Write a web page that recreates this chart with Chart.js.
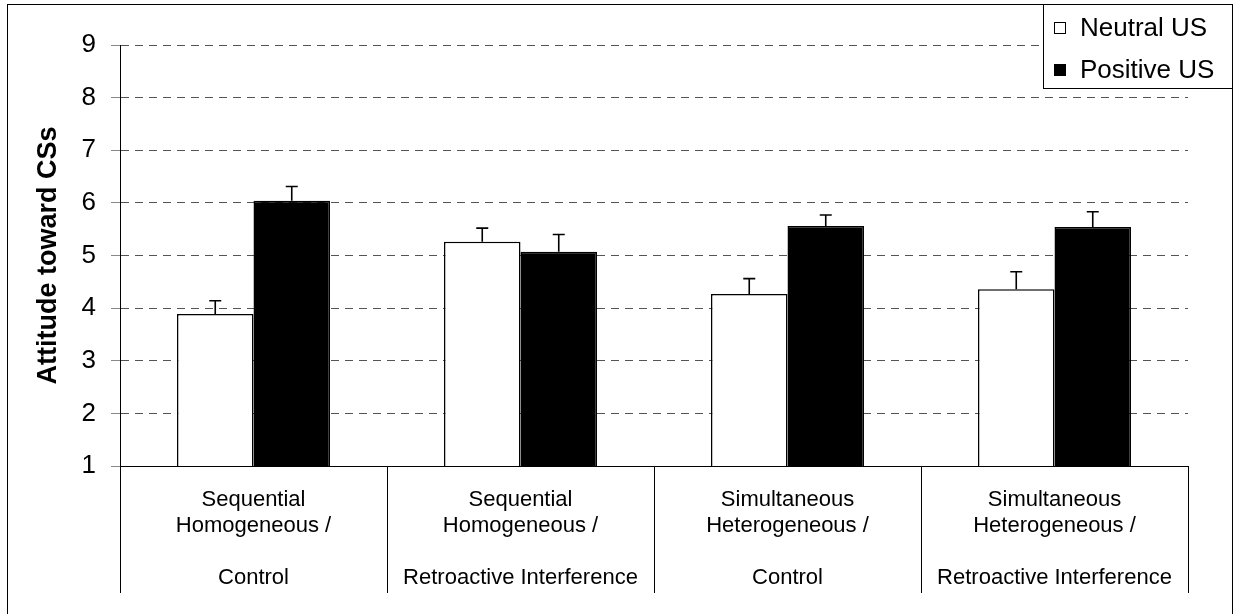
<!DOCTYPE html>
<html lang="en">
<head>
    <meta charset="UTF-8">
    <title>Attitude toward CSs</title>
    <style>
        html, body { margin: 0; padding: 0; background: #fff; }
        #chart { display: block; }
    </style>
</head>
<body>
    <canvas id="chart" width="1235" height="614"></canvas>

    <script src="https://cdn.jsdelivr.net/npm/chart.js"></script>
    <script>
        // data
        var categories = [
            ['Sequential', 'Homogeneous /', '', 'Control'],
            ['Sequential', 'Homogeneous /', '', 'Retroactive Interference'],
            ['Simultaneous', 'Heterogeneous /', '', 'Control'],
            ['Simultaneous', 'Heterogeneous /', '', 'Retroactive Interference']
        ];
        var seriesNames = ['Neutral US', 'Positive US'];
        var neutralMeans = [3.89, 5.26, 4.27, 4.36];
        var neutralErrors = [0.25, 0.26, 0.29, 0.33];
        var positiveMeans = [6.04, 5.07, 5.56, 5.54];
        var positiveErrors = [0.27, 0.33, 0.21, 0.29];
        var yMin = 1, yMax = 9, yStep = 1;
        var yTitle = 'Attitude toward CSs';

        var FONT = 'Liberation Sans, Arial, sans-serif';

        // white page + outer frame
        var framePlugin = {
            id: 'frame',
            beforeDraw: function (chart) {
                var ctx = chart.ctx;
                ctx.save();
                ctx.fillStyle = '#fff';
                ctx.fillRect(0, 0, chart.width, chart.height);
                ctx.strokeStyle = '#000';
                ctx.lineWidth = 1;
                ctx.strokeRect(7.5, 4.5, 1225, 620);
                ctx.restore();
            }
        };

        // one-sided error bars above each bar
        var errorBarPlugin = {
            id: 'errorBars',
            afterDatasetsDraw: function (chart) {
                var ctx = chart.ctx;
                var yScale = chart.scales.y;
                ctx.save();
                ctx.strokeStyle = '#000';
                ctx.lineWidth = 1.6;
                chart.data.datasets.forEach(function (ds, i) {
                    var meta = chart.getDatasetMeta(i);
                    meta.data.forEach(function (bar, j) {
                        var top = yScale.getPixelForValue(ds.data[j] + ds.errors[j]);
                        ctx.beginPath();
                        ctx.moveTo(bar.x, bar.y);
                        ctx.lineTo(bar.x, top);
                        ctx.moveTo(bar.x - 6, top);
                        ctx.lineTo(bar.x + 6, top);
                        ctx.stroke();
                    });
                });
                ctx.restore();
            }
        };

        // boxed legend in the top right corner
        var legendBoxPlugin = {
            id: 'legendBox',
            afterDraw: function (chart) {
                var ctx = chart.ctx;
                ctx.save();
                ctx.fillStyle = '#fff';
                ctx.fillRect(1043.5, 4.5, 189, 84);
                ctx.strokeStyle = '#000';
                ctx.lineWidth = 1;
                ctx.strokeRect(1043.5, 4.5, 189, 84);
                ctx.font = '26px ' + FONT;
                ctx.textBaseline = 'middle';
                var rows = [28, 70];
                chart.data.datasets.forEach(function (ds, i) {
                    var y = rows[i];
                    ctx.fillStyle = ds.backgroundColor;
                    ctx.fillRect(1054, y - 6, 12, 12);
                    ctx.strokeStyle = '#000';
                    ctx.strokeRect(1054.5, y - 5.5, 11, 11);
                    ctx.fillStyle = '#000';
                    ctx.fillText(ds.label, 1080, y + 1);
                });
                ctx.restore();
            }
        };

        var ctx = document.getElementById('chart').getContext('2d');
        var chart = new Chart(ctx, {
            type: 'bar',
            data: {
                labels: categories,
                datasets: [{
                    label: seriesNames[0],
                    data: neutralMeans,
                    errors: neutralErrors,
                    backgroundColor: '#ffffff',
                    borderColor: '#000000',
                    borderWidth: 1.5
                }, {
                    label: seriesNames[1],
                    data: positiveMeans,
                    errors: positiveErrors,
                    backgroundColor: '#000000',
                    borderColor: '#000000',
                    borderWidth: 1.5
                }]
            },
            options: {
                responsive: false,
                animation: false,
                devicePixelRatio: 1,
                categoryPercentage: 0.573,
                barPercentage: 1.0,
                layout: { padding: { left: 0, top: 45, right: 47, bottom: 0 } },
                plugins: {
                    legend: { display: false },
                    tooltip: { enabled: false }
                },
                scales: {
                    x: {
                        offset: true,
                        border: { display: true, color: '#000', width: 1 },
                        grid: {
                            display: true,
                            offset: true,
                            drawOnChartArea: false,
                            drawTicks: true,
                            tickLength: 127,
                            tickColor: '#000',
                            tickWidth: 1
                        },
                        ticks: {
                            color: '#000',
                            font: { family: FONT, size: 22, lineHeight: '26px' },
                            maxRotation: 0,
                            autoSkip: false,
                            padding: -106
                        },
                        afterFit: function (scale) { scale.height = 148; }
                    },
                    y: {
                        min: yMin,
                        max: yMax,
                        border: { display: true, color: '#000', width: 1, dash: [8, 6] },
                        grid: {
                            color: '#555',
                            lineWidth: 1,
                            tickLength: 9,
                            tickColor: '#888',
                            tickBorderDash: [],
                            tickWidth: 1
                        },
                        ticks: {
                            stepSize: yStep,
                            color: '#000',
                            padding: 15,
                            font: { family: FONT, size: 26 }
                        },
                        title: {
                            display: true,
                            text: yTitle,
                            color: '#000',
                            font: { family: FONT, size: 27, weight: 'bold', lineHeight: 1.2 },
                            padding: { top: 32, bottom: 0 }
                        },
                        afterFit: function (scale) { scale.width = 120; }
                    }
                }
            },
            plugins: [framePlugin, errorBarPlugin, legendBoxPlugin]
        });
    </script>
</body>
</html>
